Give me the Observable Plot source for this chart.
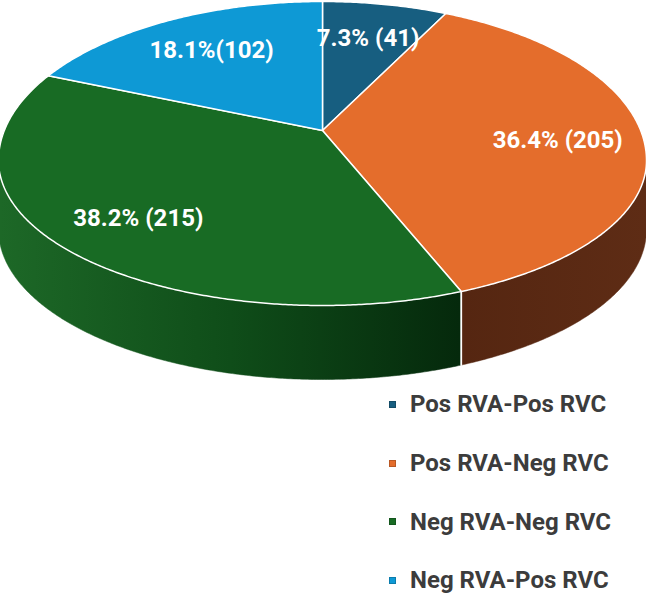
<!DOCTYPE html>
<html>
<head>
<meta charset="utf-8">
<script src="https://cdn.jsdelivr.net/npm/d3@7"></script>
<script src="https://cdn.jsdelivr.net/npm/@observablehq/plot@0.6"></script>
<style>
  html, body { margin: 0; padding: 0; background: #fff; }
  #wrap { position: relative; width: 646px; height: 599px; overflow: hidden; }
  #chart svg { display: block; }
  #legend { position: absolute; left: 389px; top: 375px; font-family: Roboto, "Open Sans", sans-serif; }
  .item { height: 58.7px; display: flex; align-items: center; font-size: 24px; font-weight: 700; color: #3c3c3c; white-space: nowrap; }
  .sw { width: 7px; height: 7px; margin-right: 14px; box-sizing: border-box; }
</style>
</head>
<body>
<div id="wrap">
  <div id="chart"></div>
  <div id="legend"></div>
</div>
<script>
// Responses by RVA / RVC result
const categories = ["Pos RVA-Pos RVC", "Pos RVA-Neg RVC", "Neg RVA-Neg RVC", "Neg RVA-Pos RVC"];
const counts = [41, 205, 215, 102];
const percents = [7.3, 36.4, 38.2, 18.1];
const labels = ["7.3% (41)", "36.4% (205)", "38.2% (215)", "18.1%(102)"];
const topColors = ["#175e80", "#e46d2c", "#186b24", "#0e99d5"];

// Tilted-disc view: rim outline, apex, wall depth and perspective skew of angles
const W = 646, H = 390;
const deg = Math.PI / 180;
const rimCx = 322, rimCy = 160, rimRx = 324, rimRyBack = 159, rimRyFront = 145;
const apex = { x: 322, y: 130 };
const skewA = 7.8 * deg, skewB = 0.5 * deg;

// true slice angle -> apparent angle on the rim (back compressed, front stretched)
const skew = t => t - skewA * Math.sin(t) - skewB * Math.sin(2 * t);
const wallDepth = p => 69 - 5 * Math.cos(p);
function rim(p, dy = 0) {
  const c = Math.cos(p);
  return { x: rimCx + rimRx * Math.sin(p), y: rimCy - (c > 0 ? rimRyBack : rimRyFront) * c + dy };
}
function rimArc(p0, p1, lower = false) {
  const n = Math.max(2, Math.ceil((p1 - p0) / (0.5 * deg)));
  return d3.range(n + 1).map(i => {
    const p = p0 + (p1 - p0) * i / n;
    return rim(p, lower ? wallDepth(p) : 0);
  });
}

const arcs = d3.pie().sort(null)(counts).map(a => ({ ...a, p0: skew(a.startAngle), p1: skew(a.endAngle) }));

// Front wall of each slice (visible between 90° and 270°)
const sideGrad = ["side0", "side1", "side2", "side3"];
const sideMarks = [];
arcs.forEach((a, i) => {
  const s0 = Math.max(a.p0, 90 * deg), s1 = Math.min(a.p1, 270 * deg);
  if (s1 <= s0) return;
  const pts = [...rimArc(s0, s1), ...rimArc(s0, s1, true).reverse()];
  pts.push(pts[0]);
  sideMarks.push(Plot.line(pts, { x: "x", y: "y", fill: `url(#${sideGrad[i]})`, stroke: `url(#${sideGrad[i]})`, strokeWidth: 0.5 }));
});

// White seams on the wall where slices meet
const seamMarks = [];
arcs.forEach(a => {
  const p = a.p1;
  if (p > 90 * deg && p < 270 * deg) {
    seamMarks.push(Plot.line([rim(p), rim(p, wallDepth(p))], { x: "x", y: "y", stroke: "white", strokeWidth: 1.8 }));
  }
});

// Top faces
const topMarks = arcs.map((a, i) => {
  const pts = [apex, ...rimArc(a.p0, a.p1), apex];
  return Plot.line(pts, { x: "x", y: "y", fill: topColors[i], stroke: "white", strokeWidth: 1.5, strokeLinejoin: "round" });
});

// Data labels, placed along each slice's middle direction
const labelData = arcs.map((a, i) => {
  const b = rim(skew((a.startAngle + a.endAngle) / 2));
  const r = 0.73;
  return { x: apex.x + r * (b.x - apex.x), y: apex.y + r * (b.y - apex.y), text: labels[i] };
});

const svg = Plot.plot({
  width: W,
  height: H,
  margin: 0,
  x: { domain: [0, W], range: [0, W], axis: null },
  y: { domain: [0, H], range: [0, H], axis: null },
  style: { background: "white", overflow: "hidden" },
  marks: [
    ...sideMarks,
    ...seamMarks,
    ...topMarks,
    Plot.text(labelData, { x: "x", y: "y", text: "text", fill: "white", fontSize: 24, fontWeight: "bold", fontFamily: "Roboto, sans-serif" })
  ]
});

svg.insertAdjacentHTML("afterbegin", `
<defs>
  <linearGradient id="side0" gradientUnits="userSpaceOnUse" x1="0" x2="646" y1="0" y2="0">
    <stop offset="0" stop-color="#0c3348"/><stop offset="1" stop-color="#08263a"/>
  </linearGradient>
  <linearGradient id="side1" gradientUnits="userSpaceOnUse" x1="460" x2="646" y1="0" y2="0">
    <stop offset="0" stop-color="#552611"/><stop offset="1" stop-color="#5e2c15"/>
  </linearGradient>
  <linearGradient id="side2" gradientUnits="userSpaceOnUse" x1="0" x2="460" y1="0" y2="0">
    <stop offset="0" stop-color="#1d6827"/><stop offset="0.5" stop-color="#0f4d19"/><stop offset="1" stop-color="#05290c"/>
  </linearGradient>
  <linearGradient id="side3" gradientUnits="userSpaceOnUse" x1="0" x2="646" y1="0" y2="0">
    <stop offset="0" stop-color="#085a80"/><stop offset="1" stop-color="#064a6a"/>
  </linearGradient>
</defs>`);

document.getElementById("chart").appendChild(svg);

// Legend below the pie
const legend = d3.select("#legend");
categories.forEach((name, i) => {
  const row = legend.append("div").attr("class", "item");
  row.append("div").attr("class", "sw").style("background", topColors[i]).style("border", `1px solid ${d3.color(topColors[i]).darker(0.6)}`);
  row.append("span").text(name);
});
</script>
</body>
</html>
